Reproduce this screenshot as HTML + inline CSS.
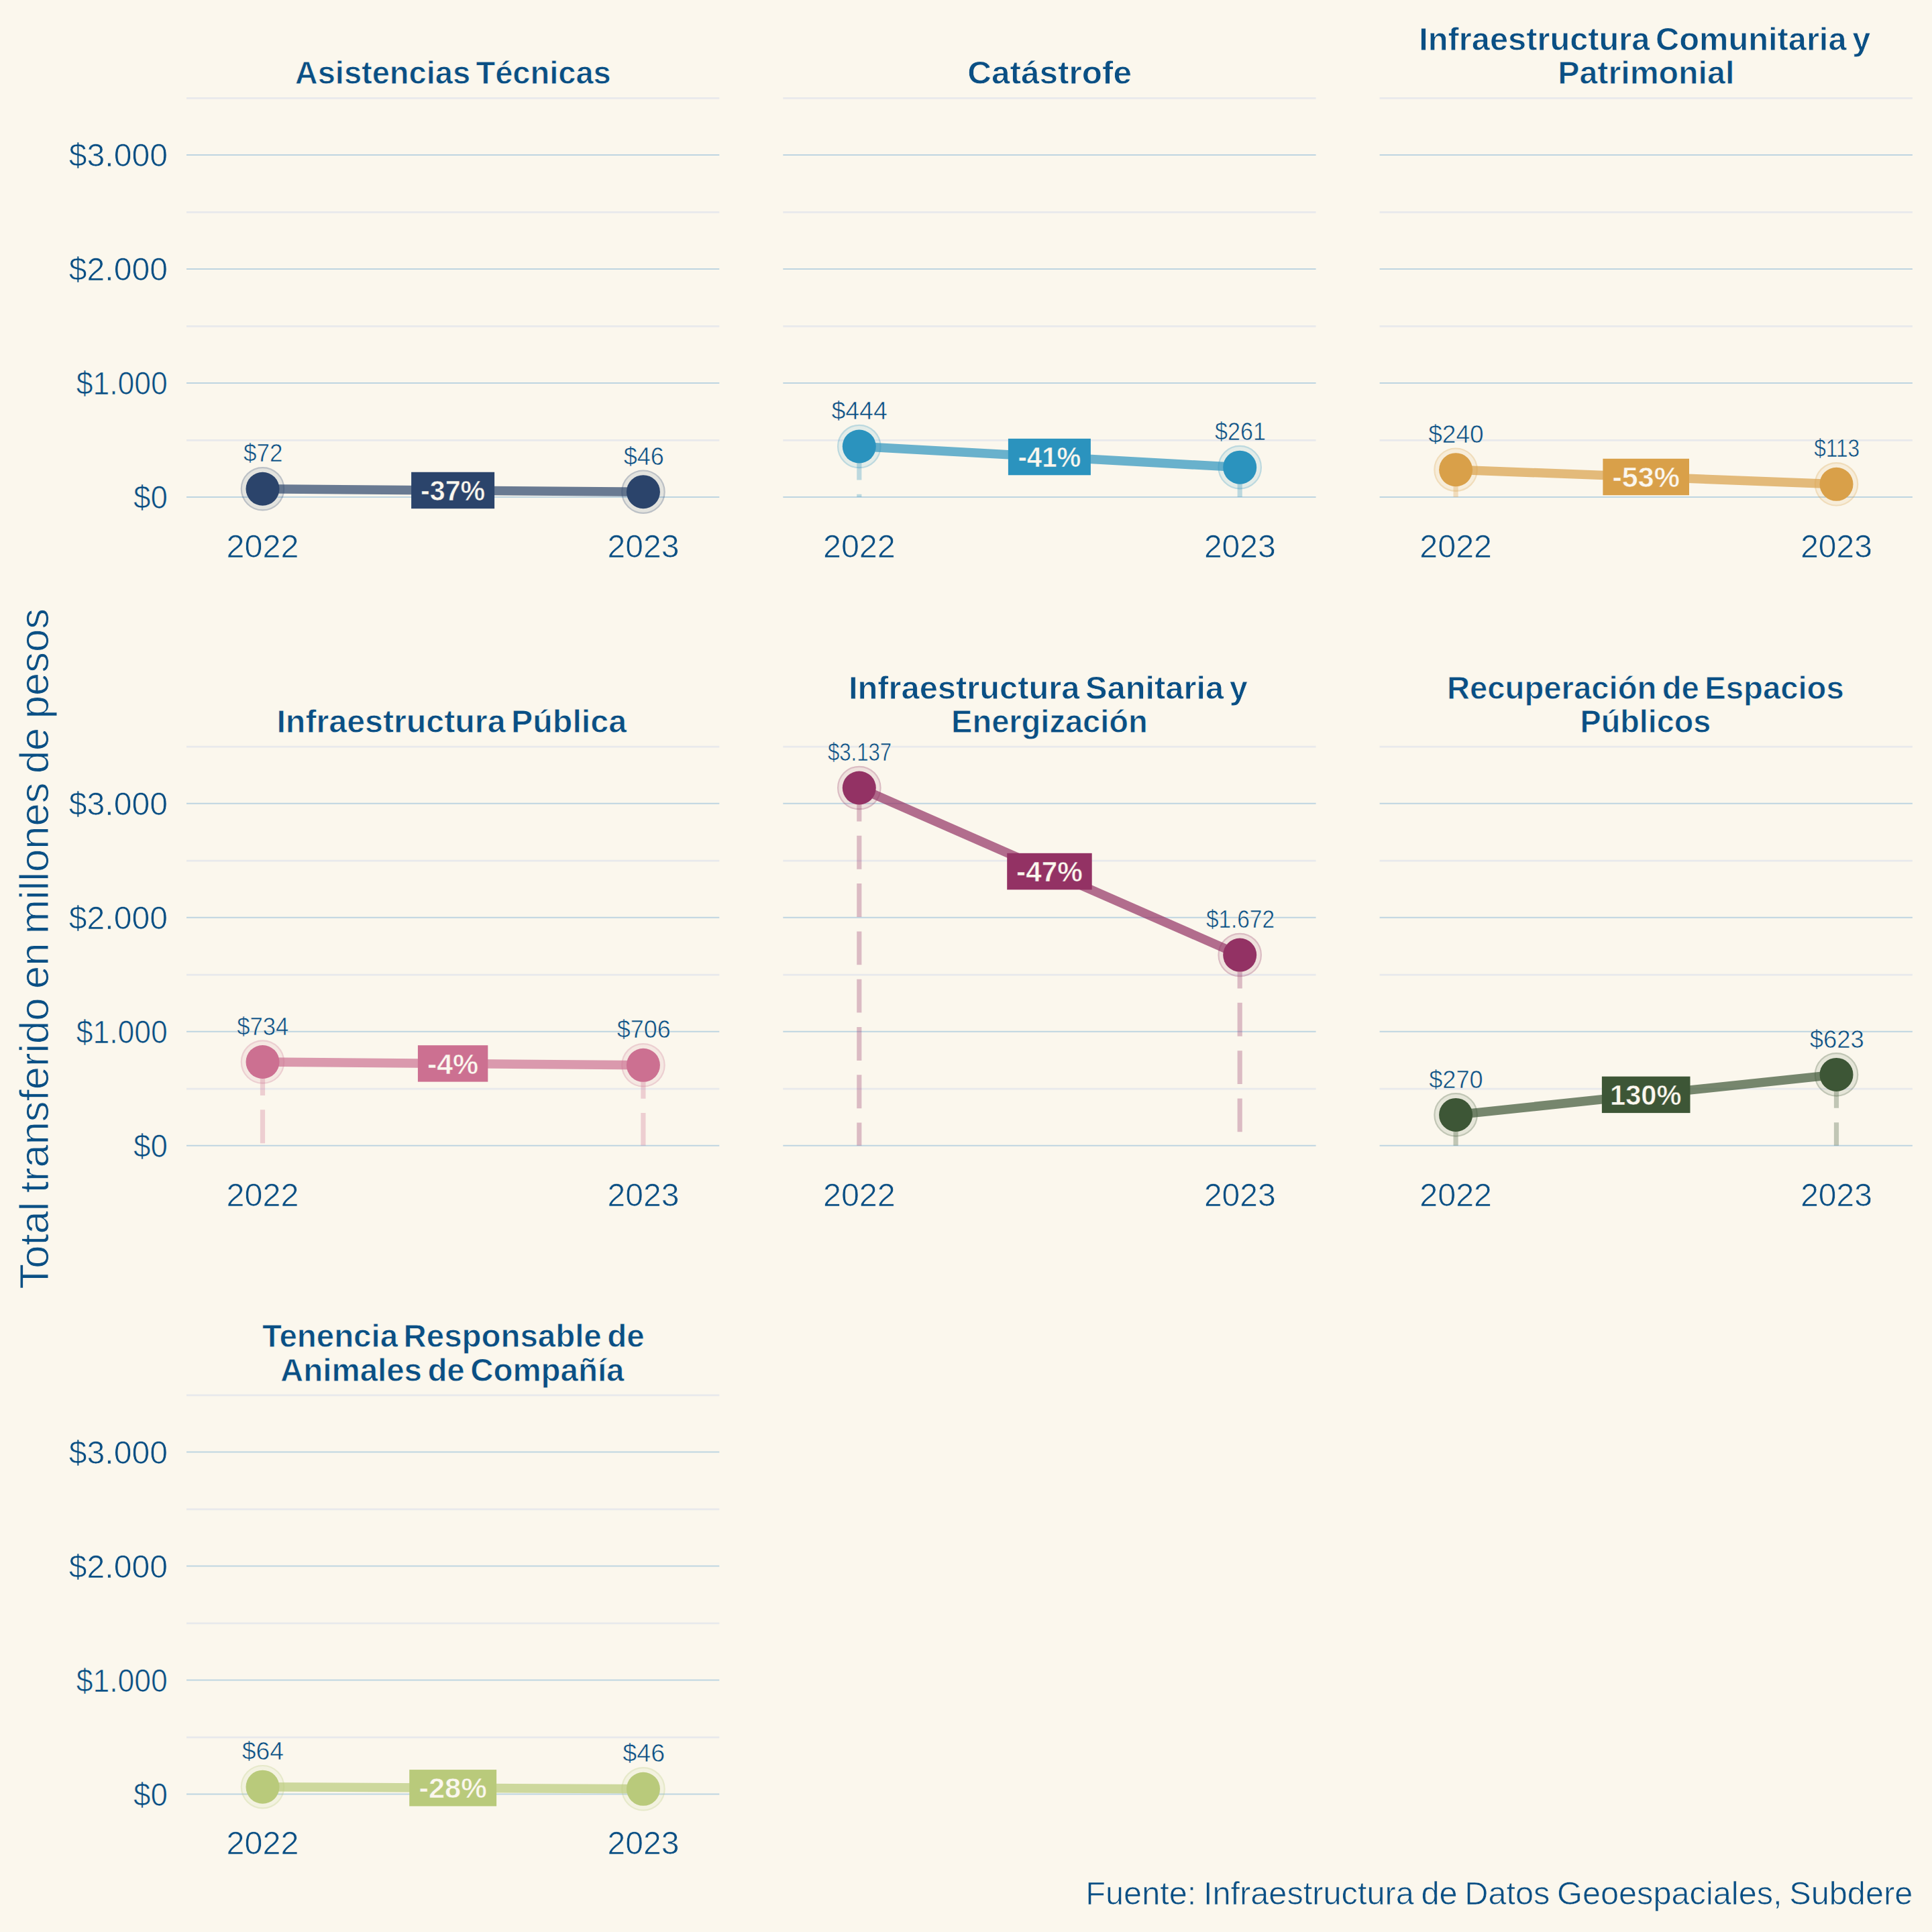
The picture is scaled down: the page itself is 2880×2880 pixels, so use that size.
<!DOCTYPE html>
<html lang="es">
<head>
<meta charset="utf-8">
<title>Total transferido en millones de pesos</title>
<style>
html,body{margin:0;padding:0;background:#fbf7ed;}
body{width:2880px;height:2880px;overflow:hidden;}
svg{display:block;font-family:"Liberation Sans", sans-serif;}
text{white-space:pre;}
</style>
</head>
<body>
<svg width="2880" height="2880" viewBox="0 0 2880 2880">
<rect width="2880" height="2880" fill="#fbf7ed"/>
<g>
<line x1="278.0" x2="1072.3" y1="656.30" y2="656.30" stroke="#e8e9ec" stroke-width="2.7"/>
<line x1="278.0" x2="1072.3" y1="486.30" y2="486.30" stroke="#e8e9ec" stroke-width="2.7"/>
<line x1="278.0" x2="1072.3" y1="316.30" y2="316.30" stroke="#e8e9ec" stroke-width="2.7"/>
<line x1="278.0" x2="1072.3" y1="146.30" y2="146.30" stroke="#e8e9ec" stroke-width="2.7"/>
<line x1="278.0" x2="1072.3" y1="741.00" y2="741.00" stroke="#bed5e1" stroke-width="2.0"/>
<line x1="278.0" x2="1072.3" y1="571.00" y2="571.00" stroke="#bed5e1" stroke-width="2.0"/>
<line x1="278.0" x2="1072.3" y1="401.00" y2="401.00" stroke="#bed5e1" stroke-width="2.0"/>
<line x1="278.0" x2="1072.3" y1="231.00" y2="231.00" stroke="#bed5e1" stroke-width="2.0"/>
<line x1="391.5" x2="391.5" y1="728.76" y2="741.00" stroke="#2b446b" stroke-opacity="0.3" stroke-width="7.2" stroke-dasharray="49.9 21.4"/>
<line x1="958.9" x2="958.9" y1="733.18" y2="741.00" stroke="#2b446b" stroke-opacity="0.3" stroke-width="7.2" stroke-dasharray="49.9 21.4"/>
<circle cx="391.5" cy="728.76" r="32.8" fill="#2b446b" fill-opacity="0.115"/>
<circle cx="391.5" cy="728.76" r="31.699999999999996" fill="none" stroke="#2b446b" stroke-opacity="0.21" stroke-width="2.2"/>
<circle cx="958.9" cy="733.18" r="32.8" fill="#2b446b" fill-opacity="0.115"/>
<circle cx="958.9" cy="733.18" r="31.699999999999996" fill="none" stroke="#2b446b" stroke-opacity="0.21" stroke-width="2.2"/>
<line x1="391.5" y1="728.76" x2="958.9" y2="733.18" stroke="#2b446b" stroke-opacity="0.7" stroke-width="13.5"/>
<circle cx="391.5" cy="728.76" r="25.0" fill="#2b446b"/>
<circle cx="958.9" cy="733.18" r="25.0" fill="#2b446b"/>
<rect x="613.1" y="703.77" width="124.0" height="54.4" fill="#2b446b"/>
<line x1="1167.3" x2="1961.6" y1="656.30" y2="656.30" stroke="#e8e9ec" stroke-width="2.7"/>
<line x1="1167.3" x2="1961.6" y1="486.30" y2="486.30" stroke="#e8e9ec" stroke-width="2.7"/>
<line x1="1167.3" x2="1961.6" y1="316.30" y2="316.30" stroke="#e8e9ec" stroke-width="2.7"/>
<line x1="1167.3" x2="1961.6" y1="146.30" y2="146.30" stroke="#e8e9ec" stroke-width="2.7"/>
<line x1="1167.3" x2="1961.6" y1="741.00" y2="741.00" stroke="#bed5e1" stroke-width="2.0"/>
<line x1="1167.3" x2="1961.6" y1="571.00" y2="571.00" stroke="#bed5e1" stroke-width="2.0"/>
<line x1="1167.3" x2="1961.6" y1="401.00" y2="401.00" stroke="#bed5e1" stroke-width="2.0"/>
<line x1="1167.3" x2="1961.6" y1="231.00" y2="231.00" stroke="#bed5e1" stroke-width="2.0"/>
<line x1="1280.8" x2="1280.8" y1="665.52" y2="741.00" stroke="#2b93be" stroke-opacity="0.3" stroke-width="7.2" stroke-dasharray="49.9 21.4"/>
<line x1="1848.2" x2="1848.2" y1="696.63" y2="741.00" stroke="#2b93be" stroke-opacity="0.3" stroke-width="7.2" stroke-dasharray="49.9 21.4"/>
<circle cx="1280.8" cy="665.52" r="32.8" fill="#2b93be" fill-opacity="0.115"/>
<circle cx="1280.8" cy="665.52" r="31.699999999999996" fill="none" stroke="#2b93be" stroke-opacity="0.21" stroke-width="2.2"/>
<circle cx="1848.2" cy="696.63" r="32.8" fill="#2b93be" fill-opacity="0.115"/>
<circle cx="1848.2" cy="696.63" r="31.699999999999996" fill="none" stroke="#2b93be" stroke-opacity="0.21" stroke-width="2.2"/>
<line x1="1280.8" y1="665.52" x2="1848.2" y2="696.63" stroke="#2b93be" stroke-opacity="0.7" stroke-width="13.5"/>
<circle cx="1280.8" cy="665.52" r="25.0" fill="#2b93be"/>
<circle cx="1848.2" cy="696.63" r="25.0" fill="#2b93be"/>
<rect x="1502.9" y="653.88" width="123.0" height="54.4" fill="#2b93be"/>
<line x1="2056.6" x2="2850.9" y1="656.30" y2="656.30" stroke="#e8e9ec" stroke-width="2.7"/>
<line x1="2056.6" x2="2850.9" y1="486.30" y2="486.30" stroke="#e8e9ec" stroke-width="2.7"/>
<line x1="2056.6" x2="2850.9" y1="316.30" y2="316.30" stroke="#e8e9ec" stroke-width="2.7"/>
<line x1="2056.6" x2="2850.9" y1="146.30" y2="146.30" stroke="#e8e9ec" stroke-width="2.7"/>
<line x1="2056.6" x2="2850.9" y1="741.00" y2="741.00" stroke="#bed5e1" stroke-width="2.0"/>
<line x1="2056.6" x2="2850.9" y1="571.00" y2="571.00" stroke="#bed5e1" stroke-width="2.0"/>
<line x1="2056.6" x2="2850.9" y1="401.00" y2="401.00" stroke="#bed5e1" stroke-width="2.0"/>
<line x1="2056.6" x2="2850.9" y1="231.00" y2="231.00" stroke="#bed5e1" stroke-width="2.0"/>
<line x1="2170.1" x2="2170.1" y1="700.20" y2="741.00" stroke="#d9a049" stroke-opacity="0.3" stroke-width="7.2" stroke-dasharray="49.9 21.4"/>
<line x1="2737.5" x2="2737.5" y1="721.79" y2="741.00" stroke="#d9a049" stroke-opacity="0.3" stroke-width="7.2" stroke-dasharray="49.9 21.4"/>
<circle cx="2170.1" cy="700.20" r="32.8" fill="#d9a049" fill-opacity="0.115"/>
<circle cx="2170.1" cy="700.20" r="31.699999999999996" fill="none" stroke="#d9a049" stroke-opacity="0.21" stroke-width="2.2"/>
<circle cx="2737.5" cy="721.79" r="32.8" fill="#d9a049" fill-opacity="0.115"/>
<circle cx="2737.5" cy="721.79" r="31.699999999999996" fill="none" stroke="#d9a049" stroke-opacity="0.21" stroke-width="2.2"/>
<line x1="2170.1" y1="700.20" x2="2737.5" y2="721.79" stroke="#d9a049" stroke-opacity="0.7" stroke-width="13.5"/>
<circle cx="2170.1" cy="700.20" r="25.0" fill="#d9a049"/>
<circle cx="2737.5" cy="721.79" r="25.0" fill="#d9a049"/>
<rect x="2389.4" y="683.79" width="128.6" height="54.4" fill="#d9a049"/>
<line x1="278.0" x2="1072.3" y1="1623.10" y2="1623.10" stroke="#e8e9ec" stroke-width="2.7"/>
<line x1="278.0" x2="1072.3" y1="1453.10" y2="1453.10" stroke="#e8e9ec" stroke-width="2.7"/>
<line x1="278.0" x2="1072.3" y1="1283.10" y2="1283.10" stroke="#e8e9ec" stroke-width="2.7"/>
<line x1="278.0" x2="1072.3" y1="1113.10" y2="1113.10" stroke="#e8e9ec" stroke-width="2.7"/>
<line x1="278.0" x2="1072.3" y1="1707.80" y2="1707.80" stroke="#bed5e1" stroke-width="2.0"/>
<line x1="278.0" x2="1072.3" y1="1537.80" y2="1537.80" stroke="#bed5e1" stroke-width="2.0"/>
<line x1="278.0" x2="1072.3" y1="1367.80" y2="1367.80" stroke="#bed5e1" stroke-width="2.0"/>
<line x1="278.0" x2="1072.3" y1="1197.80" y2="1197.80" stroke="#bed5e1" stroke-width="2.0"/>
<line x1="391.5" x2="391.5" y1="1583.02" y2="1707.80" stroke="#cc7091" stroke-opacity="0.3" stroke-width="7.2" stroke-dasharray="49.9 21.4"/>
<line x1="958.9" x2="958.9" y1="1587.78" y2="1707.80" stroke="#cc7091" stroke-opacity="0.3" stroke-width="7.2" stroke-dasharray="49.9 21.4"/>
<circle cx="391.5" cy="1583.02" r="32.8" fill="#cc7091" fill-opacity="0.115"/>
<circle cx="391.5" cy="1583.02" r="31.699999999999996" fill="none" stroke="#cc7091" stroke-opacity="0.21" stroke-width="2.2"/>
<circle cx="958.9" cy="1587.78" r="32.8" fill="#cc7091" fill-opacity="0.115"/>
<circle cx="958.9" cy="1587.78" r="31.699999999999996" fill="none" stroke="#cc7091" stroke-opacity="0.21" stroke-width="2.2"/>
<line x1="391.5" y1="1583.02" x2="958.9" y2="1587.78" stroke="#cc7091" stroke-opacity="0.7" stroke-width="13.5"/>
<circle cx="391.5" cy="1583.02" r="25.0" fill="#cc7091"/>
<circle cx="958.9" cy="1587.78" r="25.0" fill="#cc7091"/>
<rect x="622.9" y="1558.20" width="104.4" height="54.4" fill="#cc7091"/>
<line x1="1167.3" x2="1961.6" y1="1623.10" y2="1623.10" stroke="#e8e9ec" stroke-width="2.7"/>
<line x1="1167.3" x2="1961.6" y1="1453.10" y2="1453.10" stroke="#e8e9ec" stroke-width="2.7"/>
<line x1="1167.3" x2="1961.6" y1="1283.10" y2="1283.10" stroke="#e8e9ec" stroke-width="2.7"/>
<line x1="1167.3" x2="1961.6" y1="1113.10" y2="1113.10" stroke="#e8e9ec" stroke-width="2.7"/>
<line x1="1167.3" x2="1961.6" y1="1707.80" y2="1707.80" stroke="#bed5e1" stroke-width="2.0"/>
<line x1="1167.3" x2="1961.6" y1="1537.80" y2="1537.80" stroke="#bed5e1" stroke-width="2.0"/>
<line x1="1167.3" x2="1961.6" y1="1367.80" y2="1367.80" stroke="#bed5e1" stroke-width="2.0"/>
<line x1="1167.3" x2="1961.6" y1="1197.80" y2="1197.80" stroke="#bed5e1" stroke-width="2.0"/>
<line x1="1280.8" x2="1280.8" y1="1174.51" y2="1707.80" stroke="#933264" stroke-opacity="0.3" stroke-width="7.2" stroke-dasharray="49.9 21.4"/>
<line x1="1848.2" x2="1848.2" y1="1423.56" y2="1707.80" stroke="#933264" stroke-opacity="0.3" stroke-width="7.2" stroke-dasharray="49.9 21.4"/>
<circle cx="1280.8" cy="1174.51" r="32.8" fill="#933264" fill-opacity="0.115"/>
<circle cx="1280.8" cy="1174.51" r="31.699999999999996" fill="none" stroke="#933264" stroke-opacity="0.21" stroke-width="2.2"/>
<circle cx="1848.2" cy="1423.56" r="32.8" fill="#933264" fill-opacity="0.115"/>
<circle cx="1848.2" cy="1423.56" r="31.699999999999996" fill="none" stroke="#933264" stroke-opacity="0.21" stroke-width="2.2"/>
<line x1="1280.8" y1="1174.51" x2="1848.2" y2="1423.56" stroke="#933264" stroke-opacity="0.7" stroke-width="13.5"/>
<circle cx="1280.8" cy="1174.51" r="25.0" fill="#933264"/>
<circle cx="1848.2" cy="1423.56" r="25.0" fill="#933264"/>
<rect x="1501.2" y="1271.83" width="126.5" height="54.4" fill="#933264"/>
<line x1="2056.6" x2="2850.9" y1="1623.10" y2="1623.10" stroke="#e8e9ec" stroke-width="2.7"/>
<line x1="2056.6" x2="2850.9" y1="1453.10" y2="1453.10" stroke="#e8e9ec" stroke-width="2.7"/>
<line x1="2056.6" x2="2850.9" y1="1283.10" y2="1283.10" stroke="#e8e9ec" stroke-width="2.7"/>
<line x1="2056.6" x2="2850.9" y1="1113.10" y2="1113.10" stroke="#e8e9ec" stroke-width="2.7"/>
<line x1="2056.6" x2="2850.9" y1="1707.80" y2="1707.80" stroke="#bed5e1" stroke-width="2.0"/>
<line x1="2056.6" x2="2850.9" y1="1537.80" y2="1537.80" stroke="#bed5e1" stroke-width="2.0"/>
<line x1="2056.6" x2="2850.9" y1="1367.80" y2="1367.80" stroke="#bed5e1" stroke-width="2.0"/>
<line x1="2056.6" x2="2850.9" y1="1197.80" y2="1197.80" stroke="#bed5e1" stroke-width="2.0"/>
<line x1="2170.1" x2="2170.1" y1="1661.90" y2="1707.80" stroke="#3d5636" stroke-opacity="0.3" stroke-width="7.2" stroke-dasharray="49.9 21.4"/>
<line x1="2737.5" x2="2737.5" y1="1601.89" y2="1707.80" stroke="#3d5636" stroke-opacity="0.3" stroke-width="7.2" stroke-dasharray="49.9 21.4"/>
<circle cx="2170.1" cy="1661.90" r="32.8" fill="#3d5636" fill-opacity="0.115"/>
<circle cx="2170.1" cy="1661.90" r="31.699999999999996" fill="none" stroke="#3d5636" stroke-opacity="0.21" stroke-width="2.2"/>
<circle cx="2737.5" cy="1601.89" r="32.8" fill="#3d5636" fill-opacity="0.115"/>
<circle cx="2737.5" cy="1601.89" r="31.699999999999996" fill="none" stroke="#3d5636" stroke-opacity="0.21" stroke-width="2.2"/>
<line x1="2170.1" y1="1661.90" x2="2737.5" y2="1601.89" stroke="#3d5636" stroke-opacity="0.7" stroke-width="13.5"/>
<circle cx="2170.1" cy="1661.90" r="25.0" fill="#3d5636"/>
<circle cx="2737.5" cy="1601.89" r="25.0" fill="#3d5636"/>
<rect x="2387.9" y="1604.69" width="131.6" height="54.4" fill="#3d5636"/>
<line x1="278.0" x2="1072.3" y1="2589.90" y2="2589.90" stroke="#e8e9ec" stroke-width="2.7"/>
<line x1="278.0" x2="1072.3" y1="2419.90" y2="2419.90" stroke="#e8e9ec" stroke-width="2.7"/>
<line x1="278.0" x2="1072.3" y1="2249.90" y2="2249.90" stroke="#e8e9ec" stroke-width="2.7"/>
<line x1="278.0" x2="1072.3" y1="2079.90" y2="2079.90" stroke="#e8e9ec" stroke-width="2.7"/>
<line x1="278.0" x2="1072.3" y1="2674.60" y2="2674.60" stroke="#bed5e1" stroke-width="2.0"/>
<line x1="278.0" x2="1072.3" y1="2504.60" y2="2504.60" stroke="#bed5e1" stroke-width="2.0"/>
<line x1="278.0" x2="1072.3" y1="2334.60" y2="2334.60" stroke="#bed5e1" stroke-width="2.0"/>
<line x1="278.0" x2="1072.3" y1="2164.60" y2="2164.60" stroke="#bed5e1" stroke-width="2.0"/>
<line x1="391.5" x2="391.5" y1="2663.72" y2="2674.60" stroke="#b9ca7b" stroke-opacity="0.3" stroke-width="7.2" stroke-dasharray="49.9 21.4"/>
<line x1="958.9" x2="958.9" y1="2666.78" y2="2674.60" stroke="#b9ca7b" stroke-opacity="0.3" stroke-width="7.2" stroke-dasharray="49.9 21.4"/>
<circle cx="391.5" cy="2663.72" r="32.8" fill="#b9ca7b" fill-opacity="0.115"/>
<circle cx="391.5" cy="2663.72" r="31.699999999999996" fill="none" stroke="#b9ca7b" stroke-opacity="0.21" stroke-width="2.2"/>
<circle cx="958.9" cy="2666.78" r="32.8" fill="#b9ca7b" fill-opacity="0.115"/>
<circle cx="958.9" cy="2666.78" r="31.699999999999996" fill="none" stroke="#b9ca7b" stroke-opacity="0.21" stroke-width="2.2"/>
<line x1="391.5" y1="2663.72" x2="958.9" y2="2666.78" stroke="#b9ca7b" stroke-opacity="0.7" stroke-width="13.5"/>
<circle cx="391.5" cy="2663.72" r="25.0" fill="#b9ca7b"/>
<circle cx="958.9" cy="2666.78" r="25.0" fill="#b9ca7b"/>
<rect x="610.2" y="2638.05" width="129.9" height="54.4" fill="#b9ca7b"/>
</g>
<g>
<text transform="translate(627.08,746.07) scale(0.9655,1)" font-size="42.6" font-weight="bold" fill="#fbf7ee" stroke="#2b446b" stroke-width="0.6">-37%</text>
<text transform="translate(363.10,688.46) scale(0.9429,1)" font-size="37.1" fill="#0a4f84" stroke="#fbf7ed" stroke-width="0.56">$72</text>
<text transform="translate(929.65,692.88) scale(0.9711,1)" font-size="37.1" fill="#0a4f84" stroke="#fbf7ed" stroke-width="0.56">$46</text>
<text transform="translate(337.61,830.70) scale(0.9941,1)" font-size="48.8" fill="#0a4f84" stroke="#fbf7ed" stroke-width="0.73">2022</text>
<text transform="translate(905.58,830.70) scale(0.9836,1)" font-size="48.8" fill="#0a4f84" stroke="#fbf7ed" stroke-width="0.73">2023</text>
<text transform="translate(199.00,758.40) scale(0.9372,1)" font-size="48.8" fill="#0a4f84" stroke="#fbf7ed" stroke-width="0.73">$0</text>
<text transform="translate(113.70,588.40) scale(0.9122,1)" font-size="48.8" fill="#0a4f84" stroke="#fbf7ed" stroke-width="0.73">$1.000</text>
<text transform="translate(102.80,418.40) scale(0.9857,1)" font-size="48.8" fill="#0a4f84" stroke="#fbf7ed" stroke-width="0.73">$2.000</text>
<text transform="translate(102.80,248.40) scale(0.9857,1)" font-size="48.8" fill="#0a4f84" stroke="#fbf7ed" stroke-width="0.73">$3.000</text>
<text transform="translate(439.71,125.40) scale(0.9946,1)" font-size="47.3" font-weight="bold" word-spacing="-4.73" fill="#0a4f84" stroke="#fbf7ed" stroke-width="0.8">Asistencias Técnicas</text>
<text transform="translate(1517.46,696.18) scale(0.9440,1)" font-size="42.6" font-weight="bold" fill="#fbf7ee" stroke="#2b93be" stroke-width="0.6">-41%</text>
<text transform="translate(1239.40,625.22) scale(1.0114,1)" font-size="37.1" fill="#0a4f84" stroke="#fbf7ed" stroke-width="0.56">$444</text>
<text transform="translate(1811.05,656.33) scale(0.9188,1)" font-size="37.1" fill="#0a4f84" stroke="#fbf7ed" stroke-width="0.56">$261</text>
<text transform="translate(1226.91,830.70) scale(0.9941,1)" font-size="48.8" fill="#0a4f84" stroke="#fbf7ed" stroke-width="0.73">2022</text>
<text transform="translate(1794.88,830.70) scale(0.9836,1)" font-size="48.8" fill="#0a4f84" stroke="#fbf7ed" stroke-width="0.73">2023</text>
<text transform="translate(1442.25,125.40) scale(1.0461,1)" font-size="47.3" font-weight="bold" fill="#0a4f84" stroke="#fbf7ed" stroke-width="0.8">Catástrofe</text>
<text transform="translate(2403.49,726.10) scale(1.0096,1)" font-size="42.6" font-weight="bold" fill="#fbf7ee" stroke="#d9a049" stroke-width="0.6">-53%</text>
<text transform="translate(2129.15,659.90) scale(1.0004,1)" font-size="37.1" fill="#0a4f84" stroke="#fbf7ed" stroke-width="0.56">$240</text>
<text transform="translate(2704.20,681.49) scale(0.8526,1)" font-size="37.1" fill="#0a4f84" stroke="#fbf7ed" stroke-width="0.56">$113</text>
<text transform="translate(2116.21,830.70) scale(0.9941,1)" font-size="48.8" fill="#0a4f84" stroke="#fbf7ed" stroke-width="0.73">2022</text>
<text transform="translate(2684.18,830.70) scale(0.9836,1)" font-size="48.8" fill="#0a4f84" stroke="#fbf7ed" stroke-width="0.73">2023</text>
<text transform="translate(2115.26,74.80) scale(1.0311,1)" font-size="47.3" font-weight="bold" word-spacing="-4.73" fill="#0a4f84" stroke="#fbf7ed" stroke-width="0.8">Infraestructura Comunitaria y</text>
<text transform="translate(2322.23,125.40) scale(1.0218,1)" font-size="47.3" font-weight="bold" fill="#0a4f84" stroke="#fbf7ed" stroke-width="0.8">Patrimonial</text>
<text transform="translate(636.99,1600.50) scale(1.0058,1)" font-size="42.6" font-weight="bold" fill="#fbf7ee" stroke="#cc7091" stroke-width="0.6">-4%</text>
<text transform="translate(353.30,1542.72) scale(0.9333,1)" font-size="37.1" fill="#0a4f84" stroke="#fbf7ed" stroke-width="0.56">$734</text>
<text transform="translate(919.85,1547.48) scale(0.9658,1)" font-size="37.1" fill="#0a4f84" stroke="#fbf7ed" stroke-width="0.56">$706</text>
<text transform="translate(337.61,1797.50) scale(0.9941,1)" font-size="48.8" fill="#0a4f84" stroke="#fbf7ed" stroke-width="0.73">2022</text>
<text transform="translate(905.58,1797.50) scale(0.9836,1)" font-size="48.8" fill="#0a4f84" stroke="#fbf7ed" stroke-width="0.73">2023</text>
<text transform="translate(199.00,1725.20) scale(0.9372,1)" font-size="48.8" fill="#0a4f84" stroke="#fbf7ed" stroke-width="0.73">$0</text>
<text transform="translate(113.70,1555.20) scale(0.9122,1)" font-size="48.8" fill="#0a4f84" stroke="#fbf7ed" stroke-width="0.73">$1.000</text>
<text transform="translate(102.80,1385.20) scale(0.9857,1)" font-size="48.8" fill="#0a4f84" stroke="#fbf7ed" stroke-width="0.73">$2.000</text>
<text transform="translate(102.80,1215.20) scale(0.9857,1)" font-size="48.8" fill="#0a4f84" stroke="#fbf7ed" stroke-width="0.73">$3.000</text>
<text transform="translate(412.43,1092.20) scale(1.0220,1)" font-size="47.3" font-weight="bold" word-spacing="-4.73" fill="#0a4f84" stroke="#fbf7ed" stroke-width="0.8">Infraestructura Pública</text>
<text transform="translate(1515.06,1314.13) scale(0.9922,1)" font-size="42.6" font-weight="bold" fill="#fbf7ee" stroke="#933264" stroke-width="0.6">-47%</text>
<text transform="translate(1233.90,1134.21) scale(0.8391,1)" font-size="37.1" fill="#0a4f84" stroke="#fbf7ed" stroke-width="0.56">$3.137</text>
<text transform="translate(1797.90,1383.26) scale(0.8999,1)" font-size="37.1" fill="#0a4f84" stroke="#fbf7ed" stroke-width="0.56">$1.672</text>
<text transform="translate(1226.91,1797.50) scale(0.9941,1)" font-size="48.8" fill="#0a4f84" stroke="#fbf7ed" stroke-width="0.73">2022</text>
<text transform="translate(1794.88,1797.50) scale(0.9836,1)" font-size="48.8" fill="#0a4f84" stroke="#fbf7ed" stroke-width="0.73">2023</text>
<text transform="translate(1264.95,1041.60) scale(1.0320,1)" font-size="47.3" font-weight="bold" word-spacing="-4.73" fill="#0a4f84" stroke="#fbf7ed" stroke-width="0.8">Infraestructura Sanitaria y</text>
<text transform="translate(1418.07,1092.20) scale(0.9942,1)" font-size="47.3" font-weight="bold" fill="#0a4f84" stroke="#fbf7ed" stroke-width="0.8">Energización</text>
<text transform="translate(2400.00,1646.99) scale(0.9768,1)" font-size="42.6" font-weight="bold" fill="#fbf7ee" stroke="#3d5636" stroke-width="0.6">130%</text>
<text transform="translate(2130.20,1621.60) scale(0.9748,1)" font-size="37.1" fill="#0a4f84" stroke="#fbf7ed" stroke-width="0.56">$270</text>
<text transform="translate(2697.80,1561.59) scale(0.9819,1)" font-size="37.1" fill="#0a4f84" stroke="#fbf7ed" stroke-width="0.56">$623</text>
<text transform="translate(2116.21,1797.50) scale(0.9941,1)" font-size="48.8" fill="#0a4f84" stroke="#fbf7ed" stroke-width="0.73">2022</text>
<text transform="translate(2684.18,1797.50) scale(0.9836,1)" font-size="48.8" fill="#0a4f84" stroke="#fbf7ed" stroke-width="0.73">2023</text>
<text transform="translate(2156.90,1041.60) scale(0.9992,1)" font-size="47.3" font-weight="bold" word-spacing="-4.73" fill="#0a4f84" stroke="#fbf7ed" stroke-width="0.8">Recuperación de Espacios</text>
<text transform="translate(2355.59,1092.20) scale(0.9875,1)" font-size="47.3" font-weight="bold" fill="#0a4f84" stroke="#fbf7ed" stroke-width="0.8">Públicos</text>
<text transform="translate(624.48,2680.35) scale(1.0178,1)" font-size="42.6" font-weight="bold" fill="#fbf7ee" stroke="#b9ca7b" stroke-width="0.6">-28%</text>
<text transform="translate(360.75,2623.42) scale(1.0042,1)" font-size="37.1" fill="#0a4f84" stroke="#fbf7ed" stroke-width="0.56">$64</text>
<text transform="translate(928.35,2626.48) scale(1.0142,1)" font-size="37.1" fill="#0a4f84" stroke="#fbf7ed" stroke-width="0.56">$46</text>
<text transform="translate(337.61,2764.30) scale(0.9941,1)" font-size="48.8" fill="#0a4f84" stroke="#fbf7ed" stroke-width="0.73">2022</text>
<text transform="translate(905.58,2764.30) scale(0.9836,1)" font-size="48.8" fill="#0a4f84" stroke="#fbf7ed" stroke-width="0.73">2023</text>
<text transform="translate(199.00,2692.00) scale(0.9372,1)" font-size="48.8" fill="#0a4f84" stroke="#fbf7ed" stroke-width="0.73">$0</text>
<text transform="translate(113.70,2522.00) scale(0.9122,1)" font-size="48.8" fill="#0a4f84" stroke="#fbf7ed" stroke-width="0.73">$1.000</text>
<text transform="translate(102.80,2352.00) scale(0.9857,1)" font-size="48.8" fill="#0a4f84" stroke="#fbf7ed" stroke-width="0.73">$2.000</text>
<text transform="translate(102.80,2182.00) scale(0.9857,1)" font-size="48.8" fill="#0a4f84" stroke="#fbf7ed" stroke-width="0.73">$3.000</text>
<text transform="translate(390.95,2008.40) scale(1.0032,1)" font-size="47.3" font-weight="bold" word-spacing="-4.73" fill="#0a4f84" stroke="#fbf7ed" stroke-width="0.8">Tenencia Responsable de</text>
<text transform="translate(418.05,2059.00) scale(1.0031,1)" font-size="47.3" font-weight="bold" word-spacing="-4.73" fill="#0a4f84" stroke="#fbf7ed" stroke-width="0.8">Animales de Compañía</text>
<text transform="translate(1618.23,2839.40) scale(1.0232,1)" font-size="47.6" word-spacing="-2.86" fill="#0a4f84" stroke="#fbf7ed" stroke-width="0.71">Fuente: Infraestructura de Datos Geoespaciales, Subdere</text>
<text transform="translate(72.00,1414.40) rotate(-90) translate(-507.12,0) scale(1.0155,1)" font-size="60.6" word-spacing="-3.64" fill="#0a4f84" stroke="#fbf7ed" stroke-width="0.91">Total transferido en millones de pesos</text>
</g>
</svg>
</body>
</html>
